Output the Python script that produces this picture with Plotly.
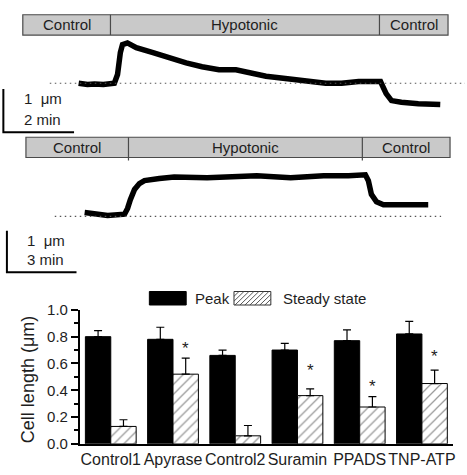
import plotly.graph_objects as go

W, H = 467, 475
FONT = "Liberation Sans, Arial, sans-serif"
TXT = "#1e1e1e"

# ---------------- data ----------------
# Recording 1 (time in min, cell length change in um)
t1 = [0.00, 0.25, 0.45, 0.70, 1.01, 1.10, 1.18, 1.24, 1.38, 1.63, 2.08, 2.56, 3.04,
      3.49, 3.97, 4.45, 4.90, 5.30, 6.03, 6.50, 6.99, 7.44, 7.92, 8.54, 8.70, 8.85,
      9.13, 9.61, 10.23]
y1 = [0.00, -0.03, -0.02, -0.03, 0.00, 0.20, 0.71, 0.89, 0.93, 0.82, 0.71, 0.58, 0.47,
      0.38, 0.31, 0.31, 0.22, 0.16, 0.09, 0.04, 0.00, 0.00, 0.04, 0.04, -0.24, -0.40,
      -0.44, -0.47, -0.49]
# Recording 2
t2 = [0.00, 0.43, 0.99, 1.72, 1.85, 1.97, 2.15, 2.36, 2.58, 3.22, 3.86, 5.28, 6.22,
      7.42, 8.88, 10.30, 11.37, 12.10, 12.23, 12.36, 12.58, 12.88, 13.86, 14.81]
y2 = [0.09, 0.05, 0.02, 0.05, 0.19, 0.40, 0.65, 0.79, 0.86, 0.91, 0.95, 0.93, 0.95,
      0.98, 0.93, 0.98, 0.98, 1.00, 0.86, 0.53, 0.35, 0.28, 0.28, 0.28]

# solution changes (min): start, hypotonic on, hypotonic off, end
sol1 = [-1.58, 0.90, 8.51, 10.45]
sol2 = [-2.53, 1.89, 11.97, 15.75]
sol_labels = ["Control", "Hypotonic", "Control"]

# scale bars (min, um)
scale1 = (2, 1)
scale2 = (3, 1)

# bar chart
groups = ["Control1", "Apyrase", "Control2", "Suramin", "PPADS", "TNP-ATP"]
peak = [0.80, 0.78, 0.66, 0.70, 0.77, 0.82]
peak_err = [0.045, 0.09, 0.04, 0.05, 0.08, 0.094]
steady = [0.13, 0.52, 0.06, 0.36, 0.275, 0.45]
steady_err = [0.05, 0.12, 0.077, 0.05, 0.077, 0.10]
star_y = [None, 0.74, None, 0.576, 0.46, 0.683]

# ---------------- helpers ----------------
def px(x):
    return x / W

def py(y):
    return 1 - y / H

fig = go.Figure()

fig.add_trace(go.Scatter(x=t1, y=y1, mode="lines", xaxis="x2", yaxis="y2",
                         line=dict(color="black", width=5.5), showlegend=False,
                         hoverinfo="skip"))
fig.add_trace(go.Scatter(x=t2, y=y2, mode="lines", xaxis="x3", yaxis="y3",
                         line=dict(color="black", width=5.5), showlegend=False,
                         hoverinfo="skip"))

fig.add_trace(go.Bar(x=groups, y=peak, name="Peak",
                     marker=dict(color="black", line=dict(color="black", width=1)),
                     error_y=dict(type="data", array=peak_err, arrayminus=[0] * len(peak),
                                  symmetric=False, color="black", thickness=1.2, width=4),
                     showlegend=False))
fig.add_trace(go.Bar(x=groups, y=steady, name="Steady state",
                     marker=dict(color="white", line=dict(color="black", width=1),
                                 pattern=dict(shape="/", fgcolor="#333", bgcolor="white",
                                              size=7, solidity=0.18)),
                     error_y=dict(type="data", array=steady_err, arrayminus=[0] * len(steady),
                                  symmetric=False, color="black", thickness=1.2, width=4),
                     showlegend=False))

shapes = []
annotations = []

def sol_bar(sol, xr, yr, ybot, ytop, div_ext):
    shapes.append(dict(type="rect", xref=xr, yref=yr, x0=sol[0], x1=sol[-1], y0=ybot, y1=ytop,
                       fillcolor="#c9c9c9", line=dict(color="#4a4a4a", width=1.2), layer="below"))
    for s in sol[1:-1]:
        shapes.append(dict(type="line", xref=xr, yref=yr, x0=s, x1=s, y0=ybot - div_ext, y1=ytop,
                           line=dict(color="#4a4a4a", width=1.2)))
    for i, lab in enumerate(sol_labels):
        annotations.append(dict(x=(sol[i] + sol[i + 1]) / 2, y=(ybot + ytop) / 2, xref=xr, yref=yr,
                                text=lab, showarrow=False, font=dict(size=15, color=TXT, family=FONT)))

sol_bar(sol1, "x2", "y2", 1.111, 1.578, 0.0)
sol_bar(sol2, "x3", "y3", 1.419, 1.907, 0.07)

# dotted baselines
shapes.append(dict(type="line", xref="paper", yref="y2", x0=px(50), x1=1, y0=0, y1=0,
                   line=dict(color="#555", width=1.2, dash="1.5px,3.5px")))
shapes.append(dict(type="line", xref="paper", yref="y3", x0=px(55), x1=px(443), y0=0, y1=0,
                   line=dict(color="#555", width=1.2, dash="1.5px,3.5px")))

# scale bars
def scale_bar(corner, sc, xr, yr):
    cx, cy = corner
    shapes.append(dict(type="path", xref=xr, yref=yr,
                       path=f"M{cx},{cy + sc[1]} L{cx},{cy} L{cx + sc[0]},{cy}",
                       line=dict(color="black", width=2)))

scale_bar((-2.13, -1.13), scale1, "x2", "y2")
scale_bar((-3.35, -1.35), scale2, "x3", "y3")

for txt, x, y in [("1\u00a0\u00a0\u03bcm", 22, 93), ("2 min", 22, 115),
                  ("1\u00a0\u00a0\u03bcm", 25, 240), ("3 min", 25, 260)]:
    annotations.append(dict(x=px(x), y=py(y), xref="paper", yref="paper", xanchor="left",
                            yanchor="middle", text=txt, showarrow=False,
                            font=dict(size=15, color=TXT, family=FONT)))

# custom legend
shapes.append(dict(type="rect", xref="paper", yref="paper", x0=px(150), x1=px(187),
                   y0=py(307), y1=py(293), fillcolor="black", line=dict(color="black", width=1)))
bx0, bx1, by0, by1 = 235, 272, 293, 307
shapes.append(dict(type="rect", xref="paper", yref="paper", x0=px(bx0), x1=px(bx1),
                   y0=py(by1), y1=py(by0), fillcolor="white", line=dict(color="#333", width=1)))
hw, hh = bx1 - bx0, by1 - by0
segs = []
c = -hh
while c < hw:
    s0 = max(0, -c)
    s1 = min(hh, hw - c)
    if s1 > s0:
        segs.append(f"M{px(bx0 + c + s0):.5f},{py(by1 - s0):.5f} L{px(bx0 + c + s1):.5f},{py(by1 - s1):.5f}")
    c += 5
shapes.append(dict(type="path", xref="paper", yref="paper", path=" ".join(segs),
                   line=dict(color="#444", width=0.9)))
annotations.append(dict(x=px(194), y=py(300), xref="paper", yref="paper", xanchor="left",
                        text="Peak", showarrow=False, font=dict(size=15, color=TXT, family=FONT)))
annotations.append(dict(x=px(282), y=py(300), xref="paper", yref="paper", xanchor="left",
                        text="Steady state", showarrow=False,
                        font=dict(size=15, color=TXT, family=FONT)))

# y-axis title
annotations.append(dict(x=px(28), y=py(384), xref="paper", yref="paper", xanchor="center",
                        yanchor="middle", text="Cell length (\u03bcm)",
                        textangle=-90, showarrow=False, font=dict(size=18, color=TXT, family=FONT)))

# significance stars
for i, sy in enumerate(star_y):
    if sy is not None:
        annotations.append(dict(x=i + 0.204, y=sy, xref="x", yref="y", text="*", showarrow=False,
                                yshift=-4, font=dict(size=17, color=TXT, family=FONT)))

fig.update_layout(
    width=W, height=H, margin=dict(l=0, r=0, t=0, b=0),
    paper_bgcolor="white", plot_bgcolor="rgba(0,0,0,0)",
    barmode="group", bargap=0.184, bargroupgap=0,
    font=dict(family=FONT, color=TXT),
    shapes=shapes, annotations=annotations, showlegend=False,
    xaxis=dict(domain=[px(80), px(455)], anchor="y", range=[-0.5, 5.5], showline=True,
               linecolor="black", linewidth=1.5, ticks="", showgrid=False, zeroline=False,
               tickfont=dict(size=16, color=TXT, family=FONT)),
    yaxis=dict(domain=[py(451), py(312)], anchor="x", range=[0, 1.0], dtick=0.2, tickformat=".1f",
               ticks="outside", ticklen=7, tickwidth=1.5, tickcolor="black", showline=True,
               linecolor="black", linewidth=1.5, showgrid=False, zeroline=False,
               minor=dict(dtick=0.1, ticks="outside", ticklen=4, tickwidth=1.5, tickcolor="black"),
               tickfont=dict(size=15, color=TXT, family=FONT)),
    xaxis2=dict(domain=[0, 1], anchor="y2", range=[-2.225, 10.930], visible=False),
    yaxis2=dict(domain=[py(140), 1], anchor="x2", range=[-1.4, 1.711], visible=False),
    xaxis3=dict(domain=[0, 1], anchor="y3", range=[-3.648, 16.395], visible=False),
    yaxis3=dict(domain=[py(290), py(125)], anchor="x3", range=[-1.744, 2.093], visible=False),
)

fig.write_html("out.html")
